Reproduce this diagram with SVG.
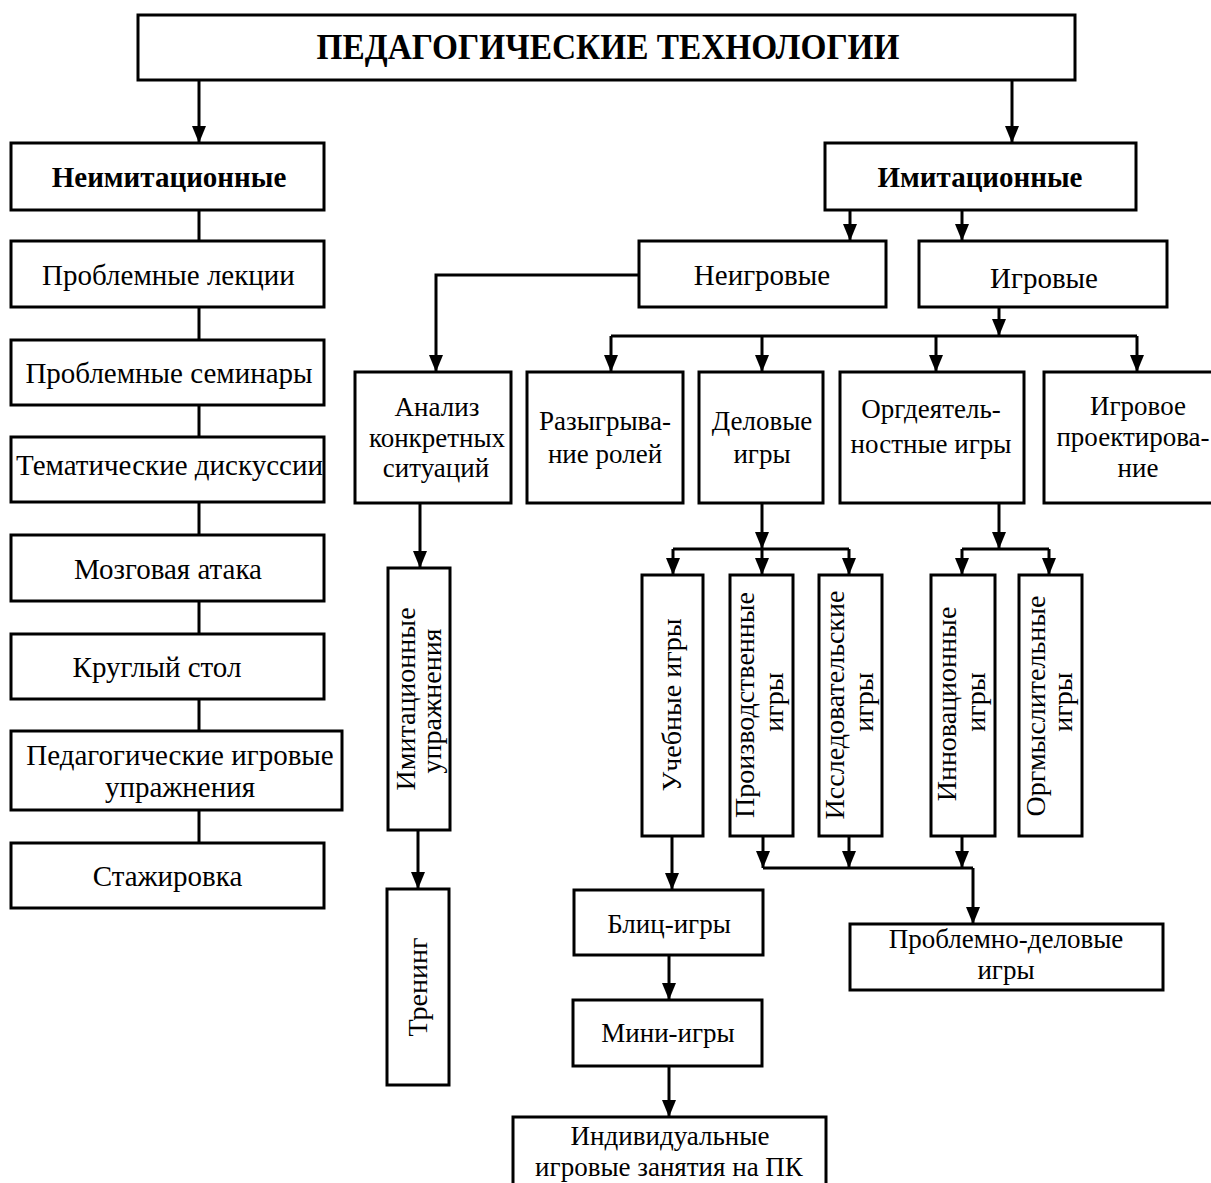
<svg xmlns="http://www.w3.org/2000/svg" width="1211" height="1183" viewBox="0 0 1211 1183">
<style>
.box{fill:#fff;stroke:#000;stroke-width:3}
.t{font-family:"Liberation Serif","Times New Roman",serif;font-size:29px;text-anchor:middle;fill:#000}
.s{font-size:27px}
.v{font-size:28px}
.b{font-weight:bold}
.h{font-size:36px}
.c{fill:none;stroke:#000;stroke-width:3}
.a{fill:none;stroke:#000;stroke-width:3;marker-end:url(#ah)}
</style>
<defs>
<marker id="ah" markerUnits="userSpaceOnUse" markerWidth="17" markerHeight="14" viewBox="0 0 17 14" refX="17" refY="7" orient="auto"><path d="M0,0 L17,7 L0,14 z" fill="#000"/></marker>
</defs>
<rect width="1211" height="1183" fill="#fff"/>
<g id="connectors">
<path class="a" d="M199,80 V143"/>
<path class="a" d="M1012,80 V143"/>
<path class="c" d="M199,210 V241 M199,307 V340 M199,405 V437 M199,502 V535 M199,601 V634 M199,699 V731 M199,810 V843"/>
<path class="a" d="M850,210 V241"/>
<path class="a" d="M962,210 V241"/>
<path class="a" d="M639,275 H436 V372"/>
<path class="a" d="M999,307 V336"/>
<path class="c" d="M611,336 H1137"/>
<path class="a" d="M611,336 V372"/>
<path class="a" d="M762,336 V372"/>
<path class="a" d="M936,336 V372"/>
<path class="a" d="M1137,336 V372"/>
<path class="a" d="M420,503 V568"/>
<path class="a" d="M418,830 V889"/>
<path class="a" d="M762,503 V549"/>
<path class="c" d="M673,549 H849"/>
<path class="a" d="M673,549 V575"/>
<path class="a" d="M762,549 V575"/>
<path class="a" d="M849,549 V575"/>
<path class="a" d="M999,503 V549"/>
<path class="c" d="M962,549 H1049"/>
<path class="a" d="M962,549 V575"/>
<path class="a" d="M1049,549 V575"/>
<path class="a" d="M672,836 V890"/>
<path class="a" d="M669,955 V1000"/>
<path class="a" d="M669,1066 V1117"/>
<path class="a" d="M763,836 V868"/>
<path class="a" d="M849,836 V868"/>
<path class="a" d="M962,836 V868"/>
<path class="c" d="M763,868 H973"/>
<path class="a" d="M973,868 V924"/>
</g>
<g id="n-title"><rect class="box" x="138" y="15" width="937" height="65"/><text class="t b h" x="608" y="59" textLength="583" lengthAdjust="spacingAndGlyphs">ПЕДАГОГИЧЕСКИЕ ТЕХНОЛОГИИ</text></g>
<g id="n-neimit"><rect class="box" x="11" y="143" width="313" height="67"/><text class="t b" x="169" y="187">Неимитационные</text></g>
<g id="n-lek"><rect class="box" x="11" y="241" width="313" height="66"/><text class="t" x="168.5" y="285">Проблемные лекции</text></g>
<g id="n-sem"><rect class="box" x="11" y="340" width="313" height="65"/><text class="t" x="169" y="383">Проблемные семинары</text></g>
<g id="n-disk"><rect class="box" x="11" y="437" width="313" height="65"/><text class="t" x="169.5" y="475">Тематические дискуссии</text></g>
<g id="n-mozg"><rect class="box" x="11" y="535" width="313" height="66"/><text class="t" x="168" y="579">Мозговая атака</text></g>
<g id="n-krug"><rect class="box" x="11" y="634" width="313" height="65"/><text class="t" x="157" y="677">Круглый стол</text></g>
<g id="n-ped"><rect class="box" x="11" y="731" width="331" height="79"/><text class="t" x="180" y="765">Педагогические игровые</text><text class="t" x="180" y="797">упражнения</text></g>
<g id="n-stazh"><rect class="box" x="11" y="843" width="313" height="65"/><text class="t" x="167.5" y="886">Стажировка</text></g>
<g id="n-imit"><rect class="box" x="825" y="143" width="311" height="67"/><text class="t b" x="980" y="187">Имитационные</text></g>
<g id="n-neigr"><rect class="box" x="639" y="241" width="247" height="66"/><text class="t" x="762" y="285">Неигровые</text></g>
<g id="n-igr"><rect class="box" x="919" y="241" width="248" height="66"/><text class="t" x="1044" y="288">Игровые</text></g>
<g id="n-analiz"><rect class="box" x="355" y="372" width="156" height="131"/><text class="t s" x="437" y="416">Анализ</text><text class="t s" x="437" y="447">конкретных</text><text class="t s" x="436" y="477">ситуаций</text></g>
<g id="n-razygr"><rect class="box" x="527" y="372" width="156" height="131"/><text class="t s" x="605" y="430">Разыгрыва-</text><text class="t s" x="605" y="463">ние ролей</text></g>
<g id="n-delov"><rect class="box" x="699" y="372" width="124" height="131"/><text class="t s" x="762" y="430">Деловые</text><text class="t s" x="762" y="463">игры</text></g>
<g id="n-orgd"><rect class="box" x="840" y="372" width="184" height="131"/><text class="t s" x="931" y="418">Оргдеятель-</text><text class="t s" x="931" y="453">ностные игры</text></g>
<g id="n-proekt"><rect class="box" x="1044" y="372" width="190" height="131"/><text class="t s" x="1138" y="415">Игровое</text><text class="t s" x="1133" y="446">проектирова-</text><text class="t s" x="1138" y="477">ние</text></g>
<g id="n-imupr"><rect class="box" x="388" y="568" width="62" height="262"/><text class="t v" transform="translate(415,699) rotate(-90)">Имитационные</text><text class="t v" transform="translate(441,701) rotate(-90)">упражнения</text></g>
<g id="n-trening"><rect class="box" x="387" y="889" width="62" height="196"/><text class="t v" transform="translate(427,987) rotate(-90)">Тренинг</text></g>
<g id="n-ucheb"><rect class="box" x="642" y="575" width="61" height="261"/><text class="t v" transform="translate(681,705) rotate(-90)">Учебные игры</text></g>
<g id="n-proizv"><rect class="box" x="730" y="575" width="63" height="261"/><text class="t v" transform="translate(754,705) rotate(-90)">Производственные</text><text class="t v" transform="translate(783,702) rotate(-90)">игры</text></g>
<g id="n-issl"><rect class="box" x="819" y="575" width="63" height="261"/><text class="t v" transform="translate(844,705) rotate(-90)">Исследовательские</text><text class="t v" transform="translate(873,702) rotate(-90)">игры</text></g>
<g id="n-innov"><rect class="box" x="931" y="575" width="64" height="261"/><text class="t v" transform="translate(956,704) rotate(-90)">Инновационные</text><text class="t v" transform="translate(985,702) rotate(-90)">игры</text></g>
<g id="n-orgm"><rect class="box" x="1019" y="575" width="63" height="261"/><text class="t v" transform="translate(1045,706) rotate(-90)">Оргмыслительные</text><text class="t v" transform="translate(1072,702) rotate(-90)">игры</text></g>
<g id="n-blic"><rect class="box" x="574" y="890" width="189" height="65"/><text class="t s" x="669" y="933">Блиц-игры</text></g>
<g id="n-mini"><rect class="box" x="573" y="1000" width="189" height="66"/><text class="t s" x="668" y="1042">Мини-игры</text></g>
<g id="n-probdel"><rect class="box" x="850" y="924" width="313" height="66"/><text class="t s" x="1006" y="948">Проблемно-деловые</text><text class="t s" x="1006" y="979">игры</text></g>
<g id="n-ind"><rect class="box" x="513" y="1117" width="313" height="80"/><text class="t s" x="670" y="1145">Индивидуальные</text><text class="t s" x="669" y="1176">игровые занятия на ПК</text></g>
</svg>
